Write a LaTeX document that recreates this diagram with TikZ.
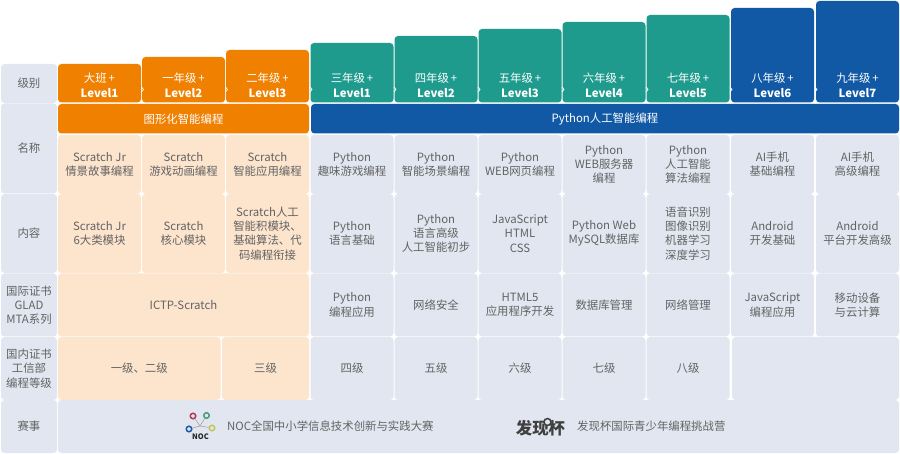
\documentclass[tikz,border=0pt]{standalone}
\usepackage{fontspec}
\setmainfont{Noto Sans CJK SC}
\definecolor{orangehead}{HTML}{F08000}
\definecolor{tealhead}{HTML}{1F9B8E}
\definecolor{bluehead}{HTML}{1259A5}
\definecolor{greycell}{HTML}{E1E6F0}
\definecolor{peachcell}{HTML}{FCE4CD}
\definecolor{celltext}{HTML}{636363}
\definecolor{nocred}{HTML}{B8394F}
\definecolor{nocgreen}{HTML}{4C9A78}
\definecolor{nocblue}{HTML}{1F5AA0}
\definecolor{nocyellow}{HTML}{C4C65A}
\begin{document}
\begin{tikzpicture}[x=1pt, y=-1pt]
	\tikzset{tile/.style = {shape=rectangle, rounded corners=3.5pt, inner sep=0pt, minimum width=83pt}}
	\tikzset{head/.style = {tile, text=white}}
	\tikzset{headtext/.style = {align=center, text=white, inner sep=0pt, font=\fontsize{11.4}{15}\selectfont}}
	\tikzset{grey/.style = {tile, fill=greycell, align=center, text=celltext, font=\fontsize{11.4}{14.2}\selectfont}}
	\tikzset{peach/.style = {grey, fill=peachcell}}
	\tikzset{side/.style = {grey, minimum width=56pt}}
	\tikzset{notch/.style = {white, line width=0.7pt}}
	\tikzset{ring/.style = {shape=circle, draw, line width=1.5pt, minimum size=5.5pt, inner sep=0pt}}
	\tikzset{link/.style = {black!45, line width=0.4pt}}
	\useasboundingbox (0,0) rectangle (900,454);
	% row labels
	\node[side, minimum height=39pt] (rowlevel) at (29,83.5) {级别};
	\node[side, minimum height=90pt] (rowname) at (29,148.5) {名称};
	\node[side, minimum height=79pt] (rowcontent) at (29,233.5) {内容};
	\node[side, minimum height=63pt] (rowintl) at (29,305) {国际证书\\GLAD\\MTA系列};
	\node[side, minimum height=63pt] (rowhome) at (29,368.5) {国内证书\\工信部\\编程等级};
	\node[side, minimum height=53pt] (rowmatch) at (29,426.5) {赛事};
	% level tiles
	\node[head, fill=orangehead, minimum height=38.5pt] (lv1) at (99.5,83.25) {};
	\node[head, fill=orangehead, minimum height=45.5pt] (lv2) at (183.5,79.75) {};
	\node[head, fill=orangehead, minimum height=52.5pt] (lv3) at (267.5,76.25) {};
	\node[head, fill=tealhead, minimum height=59.5pt] (lv4) at (352,72.75) {};
	\node[head, fill=tealhead, minimum height=66.5pt] (lv5) at (436,69.25) {};
	\node[head, fill=tealhead, minimum height=73.5pt] (lv6) at (520,65.75) {};
	\node[head, fill=tealhead, minimum height=80.5pt] (lv7) at (604,62.25) {};
	\node[head, fill=tealhead, minimum height=87.5pt] (lv8) at (688,58.75) {};
	\node[head, fill=bluehead, minimum height=94.5pt] (lv9) at (772.5,55.25) {};
	\node[head, fill=bluehead, minimum height=101.5pt] (lv10) at (857.5,51.75) {};
	\node[headtext] (txt1) at (99.5,85.5) {大班\,+\\\textbf{Level1}};
	\node[headtext] (txt2) at (183.5,85.5) {一年级\,+\\\textbf{Level2}};
	\node[headtext] (txt3) at (267.5,85.5) {二年级\,+\\\textbf{Level3}};
	\node[headtext] (txt4) at (352,85.5) {三年级\,+\\\textbf{Level1}};
	\node[headtext] (txt5) at (436,85.5) {四年级\,+\\\textbf{Level2}};
	\node[headtext] (txt6) at (520,85.5) {五年级\,+\\\textbf{Level3}};
	\node[headtext] (txt7) at (604,85.5) {六年级\,+\\\textbf{Level4}};
	\node[headtext] (txt8) at (688,85.5) {七年级\,+\\\textbf{Level5}};
	\node[headtext] (txt9) at (772.5,85.5) {八年级\,+\\\textbf{Level6}};
	\node[headtext] (txt10) at (857.5,85.5) {九年级\,+\\\textbf{Level7}};
	% notches between level tiles
	\draw[notch] (141.5,87) -- (143.5,89.5) -- (141.5,92);
	\draw[notch] (225.5,87) -- (227.5,89.5) -- (225.5,92);
	\draw[notch] (310,87) -- (312,89.5) -- (310,92);
	\draw[notch] (394,87) -- (396,89.5) -- (394,92);
	\draw[notch] (478,87) -- (480,89.5) -- (478,92);
	\draw[notch] (562,87) -- (564,89.5) -- (562,92);
	\draw[notch] (646,87) -- (648,89.5) -- (646,92);
	\draw[notch] (730,87) -- (732,89.5) -- (730,92);
	\draw[notch] (815,87) -- (817,89.5) -- (815,92);
	% bands
	\node[head, fill=orangehead, minimum width=251pt, minimum height=29.5pt, font=\fontsize{11.4}{14}\selectfont] (bandblock) at (183.5,118.75) {图形化智能编程};
	\node[head, fill=bluehead, minimum width=588pt, minimum height=29.5pt, font=\fontsize{11.4}{14}\selectfont] (bandpython) at (605,118.75) {Python人工智能编程};
	% names
	\node[peach, minimum height=59pt] (name1) at (99.5,164.5) {Scratch Jr\\情景故事编程};
	\node[peach, minimum height=59pt] (name2) at (183.5,164.5) {Scratch\\游戏动画编程};
	\node[peach, minimum height=59pt] (name3) at (267.5,164.5) {Scratch\\智能应用编程};
	\node[grey, minimum height=59pt] (name4) at (352,164.5) {Python\\趣味游戏编程};
	\node[grey, minimum height=59pt] (name5) at (436,164.5) {Python\\智能场景编程};
	\node[grey, minimum height=59pt] (name6) at (520,164.5) {Python\\WEB网页编程};
	\node[grey, minimum height=59pt] (name7) at (604,164.5) {Python\\WEB服务器\\编程};
	\node[grey, minimum height=59pt] (name8) at (688,164.5) {Python\\人工智能\\算法编程};
	\node[grey, minimum height=59pt] (name9) at (772.5,164.5) {AI手机\\基础编程};
	\node[grey, minimum height=59pt] (name10) at (857.5,164.5) {AI手机\\高级编程};
	% contents
	\node[peach, minimum height=79pt] (cont1) at (99.5,233.5) {Scratch Jr\\6大类模块};
	\node[peach, minimum height=79pt] (cont2) at (183.5,233.5) {Scratch\\核心模块};
	\node[peach, minimum height=79pt] (cont3) at (267.5,233.5) {Scratch人工\\智能积模块、\\基础算法、代\\码编程衔接};
	\node[grey, minimum height=79pt] (cont4) at (352,233.5) {Python\\语言基础};
	\node[grey, minimum height=79pt] (cont5) at (436,233.5) {Python\\语言高级\\人工智能初步};
	\node[grey, minimum height=79pt] (cont6) at (520,233.5) {JavaScript\\HTML\\CSS};
	\node[grey, minimum height=79pt] (cont7) at (604,233.5) {Python Web\\MySQL数据库};
	\node[grey, minimum height=79pt] (cont8) at (688,233.5) {语音识别\\图像识别\\机器学习\\深度学习};
	\node[grey, minimum height=79pt] (cont9) at (772.5,233.5) {Android\\开发基础};
	\node[grey, minimum height=79pt] (cont10) at (857.5,233.5) {Android\\平台开发高级};
	% international certificates
	\node[peach, minimum width=251pt, minimum height=63pt] (intlscratch) at (183.5,305) {ICTP-Scratch};
	\node[grey, minimum height=63pt] (intl4) at (352,305) {Python\\编程应用};
	\node[grey, minimum height=63pt] (intl5) at (436,305) {网络安全};
	\node[grey, minimum height=63pt] (intl6) at (520,305) {HTML5\\应用程序开发};
	\node[grey, minimum height=63pt] (intl7) at (604,305) {数据库管理};
	\node[grey, minimum height=63pt] (intl8) at (688,305) {网络管理};
	\node[grey, minimum height=63pt] (intl9) at (772.5,305) {JavaScript\\编程应用};
	\node[grey, minimum height=63pt] (intl10) at (857.5,305) {移动设备\\与云计算};
	% domestic certificates
	\node[peach, minimum width=162.5pt, minimum height=63pt] (home12) at (139.25,368.5) {一级、二级};
	\node[peach, minimum width=87pt, minimum height=63pt] (home3) at (265.5,368.5) {三级};
	\node[grey, minimum height=63pt] (home4) at (352,368.5) {四级};
	\node[grey, minimum height=63pt] (home5) at (436,368.5) {五级};
	\node[grey, minimum height=63pt] (home6) at (520,368.5) {六级};
	\node[grey, minimum height=63pt] (home7) at (604,368.5) {七级};
	\node[grey, minimum height=63pt] (home8) at (688,368.5) {八级};
	\node[grey, minimum width=167pt, minimum height=63pt] (homeblank) at (815.5,368.5) {};
	% contests
	\node[grey, minimum width=841pt, minimum height=53pt] (match) at (478.5,426.5) {};
	\node[text=celltext, inner sep=0pt, font=\fontsize{11.4}{14}\selectfont, anchor=west] (matchnoc) at (227,426) {NOC全国中小学信息技术创新与实践大赛};
	\node[text=celltext, inner sep=0pt, font=\fontsize{11.4}{14}\selectfont, anchor=west] (matchfind) at (577,426) {发现杯国际青少年编程挑战营};
	% logos
	\coordinate (nochub) at (200,426);
	\node[ring, draw=nocred] (ringred) at (193,416) {};
	\node[ring, draw=nocgreen] (ringgreen) at (206.5,415.5) {};
	\node[ring, draw=nocblue] (ringblue) at (189,429) {};
	\node[ring, draw=nocyellow] (ringyellow) at (212,428) {};
	\draw[link] (ringred) -- (nochub);
	\draw[link] (ringgreen) -- (nochub);
	\draw[link] (ringblue) -- (nochub);
	\draw[link] (ringyellow) -- (nochub);
	\node[text=black!85, inner sep=0pt, font=\fontsize{7.5}{8}\selectfont\bfseries] (noctext) at (200.5,437) {NOC};
	\node[text=black!75, inner sep=0pt, font=\fontsize{16.4}{18}\selectfont\bfseries] (findlogo) at (540.5,428) {发现杯};
	\node[draw=black!75, fill=greycell, shape=circle, line width=1.5pt, minimum size=7pt, inner sep=0pt] (findring) at (547.5,422) {};
\end{tikzpicture}
\end{document}
